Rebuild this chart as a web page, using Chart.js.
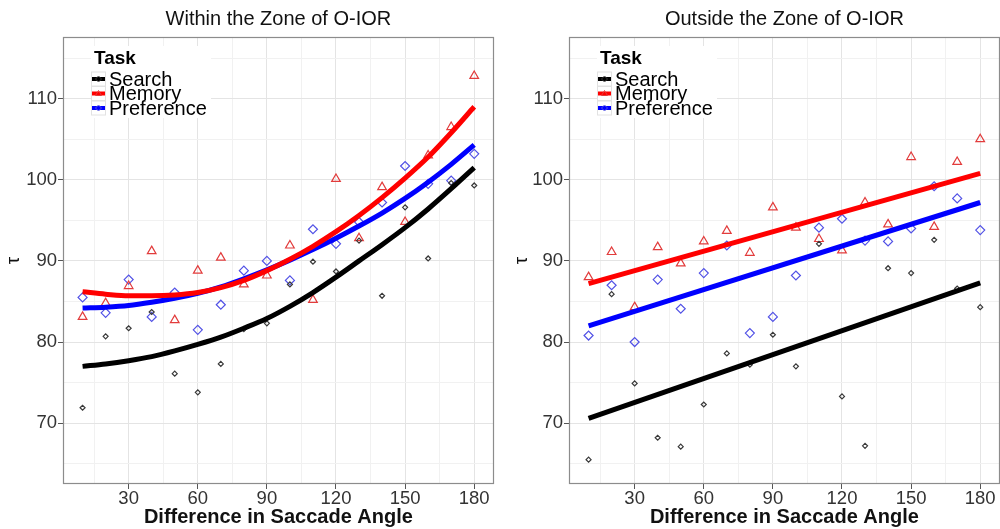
<!DOCTYPE html>
<html>
<head>
<meta charset="utf-8">
<script src="https://cdn.jsdelivr.net/npm/chart.js@4/dist/chart.umd.min.js"></script>
<style>
html, body { margin: 0; padding: 0; background: #fff; overflow: hidden; width: 1000px; height: 529px; }
.panel { position: absolute; top: 0; width: 500px; height: 529px; }
</style>
</head>
<body>
<div class="panel" style="left:0px"><canvas id="within" width="500" height="529"></canvas></div>
<div class="panel" style="left:506px"><canvas id="outside" width="500" height="529"></canvas></div>
<script>
// saccade angle differences (x) for the observed points
var angles = [10, 20, 30, 40, 50, 60, 70, 80, 90, 100, 110, 120, 130, 140, 150, 160, 170, 180];

// Within the zone of O-IOR: observed tau
var withinSearch = [71.9, 80.7, 81.7, 83.7, 76.1, 73.8, 77.3, 81.6, 82.3, 87.1, 89.9, 88.7, 92.5, 85.7, 96.6, 90.3, 99.6, 99.3];
var withinMemory = [83.1, 84.8, 86.9, 91.2, 82.7, 88.8, 90.4, 87.1, 88.2, 91.9, 85.2, 100.1, 92.8, 99.1, 94.8, 103.0, 106.5, 112.8];
var withinPreference = [85.5, 83.6, 87.7, 83.1, 86.1, 81.5, 84.6, 88.8, 90.0, 87.6, 93.9, 92.1, 94.8, 97.2, 101.7, 99.5, 99.9, 103.2];

// Within: fitted curves read at the same angles
var withinSearchFit = [77.0, 77.3, 77.7, 78.2, 78.9, 79.7, 80.6, 81.7, 82.9, 84.4, 86.1, 88.0, 90.0, 92.0, 94.1, 96.4, 98.9, 101.5];
var withinMemoryFit = [86.2, 85.9, 85.7, 85.7, 85.8, 86.1, 86.7, 87.6, 88.8, 90.2, 91.8, 93.6, 95.6, 97.8, 100.2, 102.8, 105.8, 109.0];
var withinPreferenceFit = [84.2, 84.3, 84.5, 84.9, 85.4, 86.0, 86.8, 87.8, 88.9, 90.1, 91.4, 92.8, 94.3, 95.9, 97.7, 99.7, 101.9, 104.3];

// Outside the zone of O-IOR: observed tau
var outsideSearch = [65.5, 85.9, 74.9, 68.2, 67.1, 72.3, 78.6, 77.2, 80.9, 77.0, 92.1, 73.3, 67.2, 89.1, 88.5, 92.6, 86.6, 84.3];
var outsideMemory = [88.0, 91.1, 84.3, 91.7, 89.7, 92.4, 93.7, 91.0, 96.6, 94.1, 92.7, 91.3, 97.2, 94.5, 102.8, 94.2, 102.2, 105.0];
var outsidePreference = [80.8, 87.0, 80.0, 87.7, 84.1, 88.5, 91.9, 81.1, 83.1, 88.2, 94.1, 95.2, 92.5, 92.4, 94.0, 99.2, 97.7, 93.8];

// Outside: straight fitted lines (ends)
var outsideFitAngles = [10, 180];
var outsideSearchFit = [70.6, 87.3];
var outsideMemoryFit = [87.2, 100.8];
var outsidePreferenceFit = [82.0, 97.2];

// axes
var xMajor = [30, 60, 90, 120, 150, 180];
var xMinor = [15, 45, 75, 105, 135, 165];
var yMajor = [70, 80, 90, 100, 110];
var yMinor = [65, 75, 85, 95, 105, 115];
var xRange = [1.5, 188.5];
var yRange = [62.5, 117.6];

var taskNames = ['Search', 'Memory', 'Preference'];
var lineColors = ['#000000', '#ff0000', '#0000ff'];
var pointColors = ['#3a3a3a', '#e23c3c', '#5252e6'];
var pointShapes = ['rectRot', 'triangle', 'rectRot'];
var pointSizes = [2.5, 5, 4.5];

var FONT = "'Liberation Sans', Arial, sans-serif";

function xy(xs, ys) {
	return xs.map(function(x, i) { return {x: x, y: ys[i]}; });
}
function isMajor(ctx, majors) {
	return ctx.tick && majors.indexOf(ctx.tick.value) >= 0;
}
function gridValues(a, b) {
	return a.concat(b).sort(function(p, q) { return p - q; }).map(function(v) { return {value: v}; });
}

function drawKeyMarker(ctx, shape, x, y, color) {
	ctx.strokeStyle = color;
	ctx.lineWidth = 1;
	ctx.beginPath();
	if (shape === 'triangle') {
		ctx.moveTo(x, y - 3); ctx.lineTo(x + 3, y + 2); ctx.lineTo(x - 3, y + 2); ctx.closePath();
	} else {
		ctx.moveTo(x - 3, y); ctx.lineTo(x, y - 3); ctx.lineTo(x + 3, y); ctx.lineTo(x, y + 3); ctx.closePath();
	}
	ctx.stroke();
}

// panel border + "Task" legend drawn over the chart area
var panelExtras = {
	id: 'panelExtras',
	afterDraw: function(chart) {
		var a = chart.chartArea, ctx = chart.ctx;
		ctx.save();
		ctx.strokeStyle = '#8c8c8c';
		ctx.lineWidth = 1.2;
		ctx.strokeRect(Math.round(a.left) + 0.5, Math.round(a.top) + 0.5, Math.round(a.right - a.left) - 1, Math.round(a.bottom - a.top) - 1);

		var lx = a.left + 28, ly = a.top + 9;
		ctx.fillStyle = '#ffffff';
		ctx.fillRect(lx, ly, 120, 72);
		ctx.fillStyle = '#000';
		ctx.textBaseline = 'middle';
		ctx.font = 'bold 19px ' + FONT;
		ctx.fillText('Task', lx + 3, ly + 13);
		for (var i = 0; i < taskNames.length; i++) {
			var cy = ly + 33 + i * 14.5;
			ctx.strokeStyle = '#e2e2e2';
			ctx.lineWidth = 1;
			ctx.strokeRect(lx + 0.5, cy - 7, 14, 14);
			ctx.strokeStyle = lineColors[i];
			ctx.lineWidth = 4;
			ctx.beginPath(); ctx.moveTo(lx + 1, cy); ctx.lineTo(lx + 14, cy); ctx.stroke();
			drawKeyMarker(ctx, pointShapes[i], lx + 7.5, cy, pointColors[i]);
			ctx.fillStyle = '#000';
			ctx.font = '20px ' + FONT;
			ctx.fillText(taskNames[i], lx + 18, cy + 1);
		}
		ctx.restore();
	}
};

function makePanel(id, title, pts, fitXs, fits, curved, tauPad) {
	var datasets = [];
	for (var i = 0; i < 3; i++) {
		datasets.push({
			label: taskNames[i] + ' fit',
			data: xy(fitXs, fits[i]),
			showLine: true,
			pointRadius: 0,
			borderColor: lineColors[i],
			borderWidth: 5,
			fill: false,
			cubicInterpolationMode: curved ? 'monotone' : 'default',
			order: 0
		});
	}
	for (var j = 0; j < 3; j++) {
		datasets.push({
			label: taskNames[j],
			data: xy(angles, pts[j]),
			pointStyle: pointShapes[j],
			pointRadius: pointSizes[j],
			pointBorderWidth: 1.2,
			pointBorderColor: pointColors[j],
			pointBackgroundColor: 'rgba(0,0,0,0)',
			showLine: false,
			order: 1
		});
	}
	return new Chart(document.getElementById(id), {
		type: 'scatter',
		data: { datasets: datasets },
		plugins: [panelExtras],
		options: {
			responsive: false,
			animation: false,
			events: [],
			layout: { padding: { left: 0, right: 3, top: 0, bottom: 0 } },
			plugins: {
				legend: { display: false },
				tooltip: { enabled: false },
				title: {
					display: true,
					text: title,
					fullSize: false,
					color: '#111',
					font: { family: FONT, size: 20, weight: 'normal', lineHeight: 1.2 },
					padding: { top: 7, bottom: 6 }
				}
			},
			scales: {
				x: {
					type: 'linear',
					min: xRange[0],
					max: xRange[1],
					afterBuildTicks: function(s) { s.ticks = gridValues(xMajor, xMinor); },
					afterFit: function(s) { s.height = 45; },
					border: { display: false },
					grid: {
						color: function(c) { return isMajor(c, xMajor) ? '#e4e4e4' : '#f1f1f1'; },
						tickColor: function(c) { return isMajor(c, xMajor) ? '#555' : 'rgba(0,0,0,0)'; },
						tickLength: 5,
						lineWidth: 1
					},
					ticks: {
						autoSkip: false,
						maxRotation: 0,
						padding: 1,
						color: '#333',
						font: { family: FONT, size: 18.5, lineHeight: 1 },
						callback: function(v) { return xMajor.indexOf(v) >= 0 ? String(v) : ''; }
					},
					title: {
						display: true,
						text: 'Difference in Saccade Angle',
						color: '#111',
						font: { family: FONT, size: 20, weight: 'bold', lineHeight: 1 },
						padding: { top: 0, bottom: 2 }
					}
				},
				y: {
					type: 'linear',
					min: yRange[0],
					max: yRange[1],
					afterBuildTicks: function(s) { s.ticks = gridValues(yMajor, yMinor); },
					afterFit: function(s) { s.width = 63; },
					border: { display: false },
					grid: {
						color: function(c) { return isMajor(c, yMajor) ? '#e4e4e4' : '#f1f1f1'; },
						tickColor: function(c) { return isMajor(c, yMajor) ? '#555' : 'rgba(0,0,0,0)'; },
						tickLength: 5,
						lineWidth: 1
					},
					ticks: {
						autoSkip: false,
						padding: 1,
						color: '#333',
						font: { family: FONT, size: 18.5, lineHeight: 1 },
						callback: function(v) { return yMajor.indexOf(v) >= 0 ? String(v) : ''; }
					},
					title: {
						display: true,
						text: 'τ',
						color: '#111',
						font: { family: FONT, size: 19, lineHeight: 1 },
						padding: { top: tauPad, bottom: 0 }
					}
				}
			}
		}
	});
}

makePanel('within', 'Within the Zone of O-IOR',
	[withinSearch, withinMemory, withinPreference],
	angles, [withinSearchFit, withinMemoryFit, withinPreferenceFit], true, 4);
makePanel('outside', 'Outside the Zone of O-IOR',
	[outsideSearch, outsideMemory, outsidePreference],
	outsideFitAngles, [outsideSearchFit, outsideMemoryFit, outsidePreferenceFit], false, 6.5);
</script>
</body>
</html>
